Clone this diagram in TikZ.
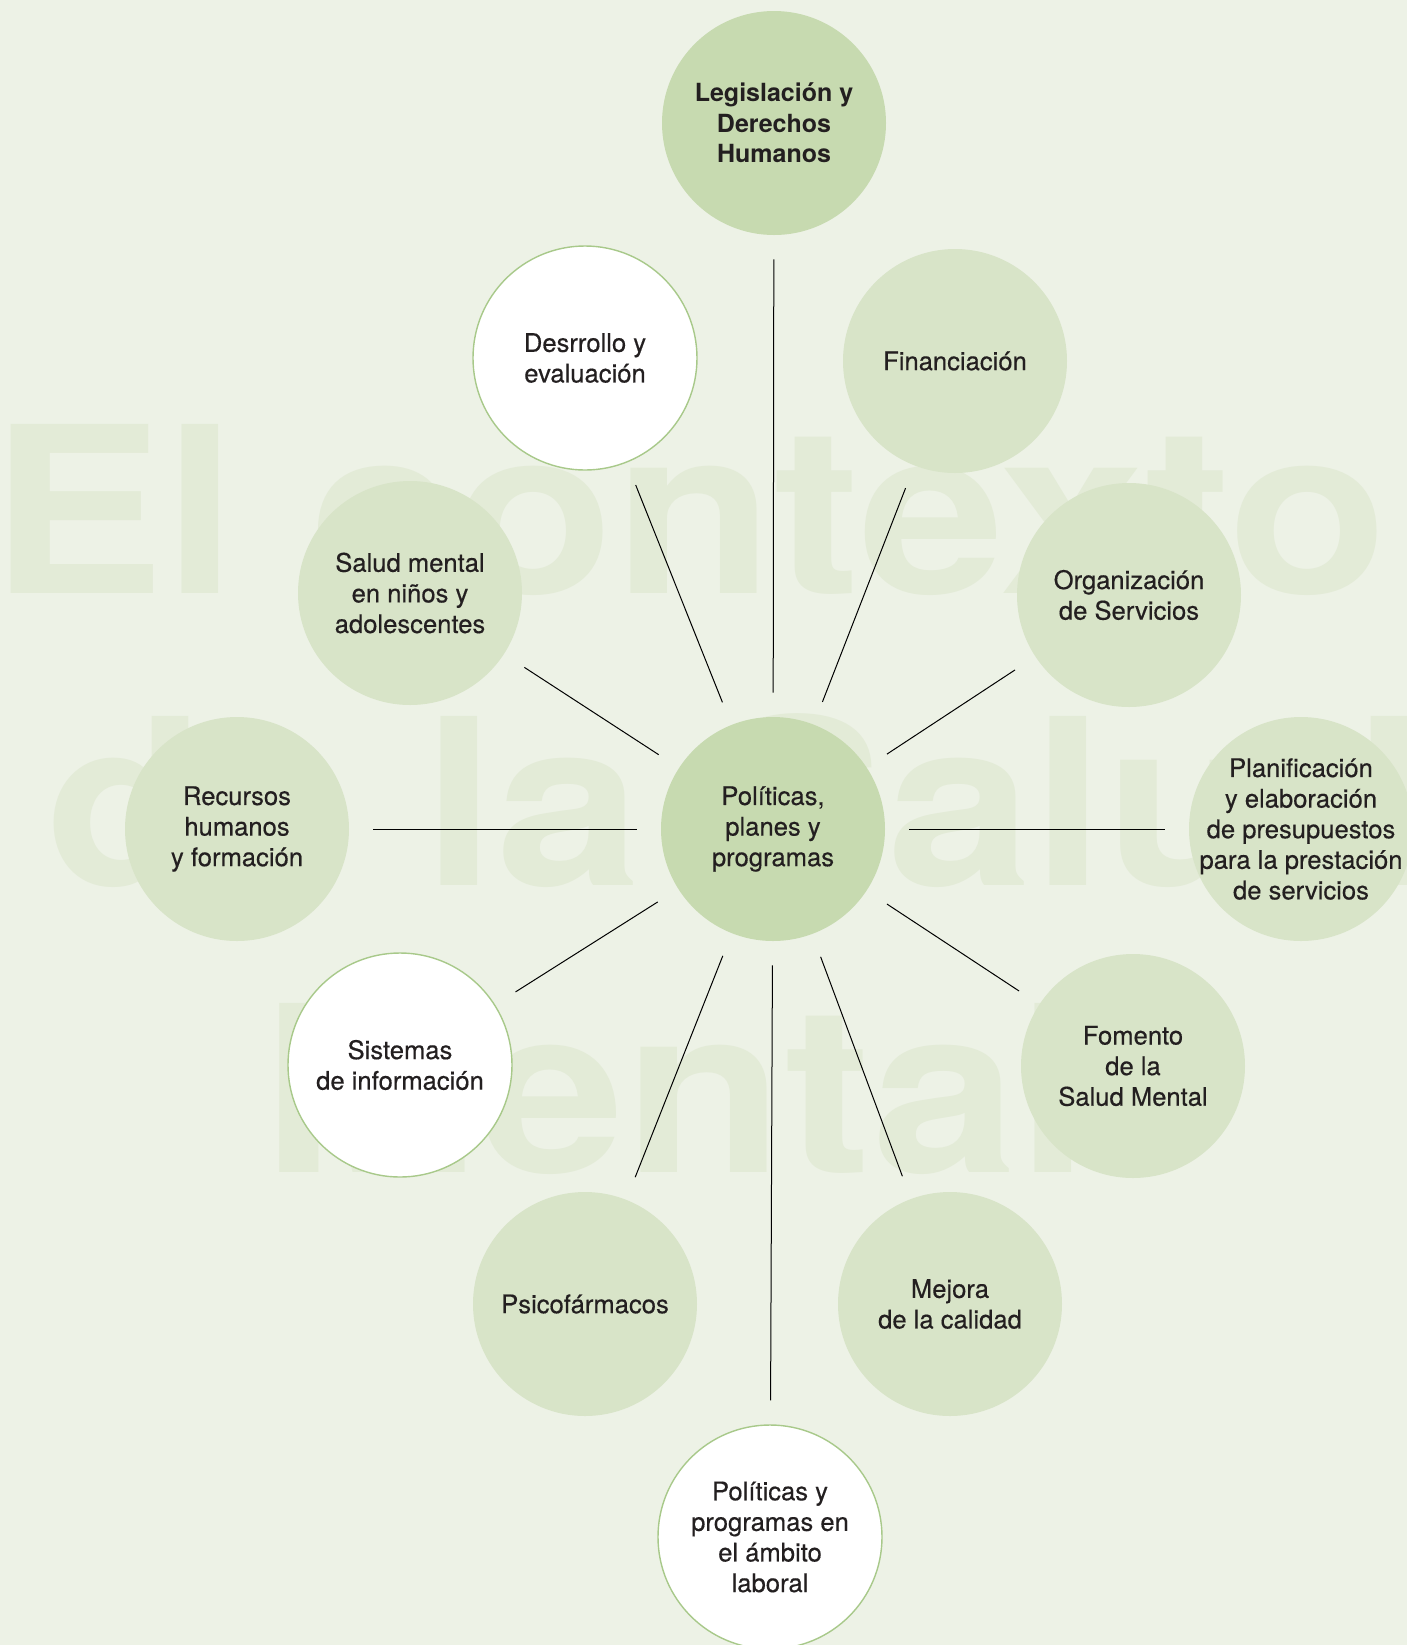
\documentclass[tikz,border=0pt]{standalone}
\usepackage{fontspec}
\setmainfont{TeX Gyre Heros}
\newfontfamily\midfont{TeX Gyre Heros}[FakeBold=0.4]

\definecolor{paper}{HTML}{EDF2E6}
\definecolor{darkleaf}{HTML}{C7DAB0}
\definecolor{lightleaf}{HTML}{D8E4C8}
\definecolor{rimgreen}{HTML}{A8C98A}
\definecolor{wordgreen}{HTML}{E3EBD7}
\definecolor{ink}{HTML}{231F20}

\begin{document}
\begin{tikzpicture}[x=0.5pt, y=-0.5pt,
  disc/.style={circle, minimum size=112pt, inner sep=0pt, fill=#1},
  whitedisc/.style={circle, minimum size=112pt, inner sep=0pt, fill=white, draw=rimgreen, line width=0.7pt},
  txt/.style={align=center, text=ink, font=\midfont\fontsize{12.8}{15.3}\selectfont},
  boldtxt/.style={align=center, text=ink, font=\bfseries\fontsize{12.5}{15.3}\selectfont},
  spoke/.style={line width=0.5pt, shorten <=12pt, shorten >=12pt},
  bigword/.style={anchor=base west, inner sep=0pt, text=wordgreen, font=\fontsize{116}{116}\bfseries\selectfont}]

  \useasboundingbox (0,0) rectangle (1407,1645);
  \clip (0,0) rectangle (1407,1645);
  \fill[paper] (0,0) rectangle (1407,1645);

  \node[bigword] (word1) at (-10,593) {\scalebox{1.125}[1]{El contexto}};
  \node[bigword] (word2) at (46,885) {\scalebox{1.125}[1]{de la Salud}};
  \node[bigword] (word3) at (262,1172) {\scalebox{1.125}[1]{Mental}};

  \node[disc=darkleaf, label={[boldtxt]center:{Legislación y\\Derechos\\Humanos}}] (legis) at (774,123) {};
  \node[whitedisc, label={[txt]center:{Desrrollo y\\evaluación}}] (desa) at (585,358) {};
  \node[disc=lightleaf, label={[txt]center:{Financiación}}] (finan) at (955,361) {};
  \node[disc=lightleaf, label={[txt]center:{Salud mental\\en niños y\\adolescentes}}] (ninos) at (410,593) {};
  \node[disc=lightleaf, label={[txt]center:{Organización\\de Servicios}}] (organ) at (1129,595) {};
  \node[disc=lightleaf, label={[txt]center:{Recursos\\humanos\\y formación}}] (recur) at (237,829) {};
  \node[disc=darkleaf, label={[txt]center:{Políticas,\\planes y\\programas}}] (hub) at (773,829) {};
  \node[disc=lightleaf, label={[txt]center:{Planificación\\y elaboración\\de presupuestos\\para la prestación\\de servicios}}] (plan) at (1301,829) {};
  \node[whitedisc, label={[txt]center:{Sistemas\\de información}}] (sist) at (400,1065) {};
  \node[disc=lightleaf, label={[txt]center:{Fomento\\de la\\Salud Mental}}] (fomen) at (1133,1066) {};
  \node[disc=lightleaf, label={[txt]center:{Psicofármacos}}] (psico) at (585,1304) {};
  \node[disc=lightleaf, label={[txt]center:{Mejora\\de la calidad}}] (mejora) at (950,1304) {};
  \node[whitedisc, label={[txt]center:{Políticas y\\programas en\\el ámbito\\laboral}}] (labor) at (770,1537) {};

  \draw[spoke] (hub) -- (legis);
  \draw[spoke] (hub) -- (desa);
  \draw[spoke] (hub) -- (finan);
  \draw[spoke] (hub) -- (ninos);
  \draw[spoke] (hub) -- (organ);
  \draw[spoke] (hub) -- (recur);
  \draw[spoke] (hub) -- (plan);
  \draw[spoke] (hub) -- (sist);
  \draw[spoke] (hub) -- (fomen);
  \draw[spoke] (hub) -- (psico);
  \draw[spoke] (hub) -- (mejora);
  \draw[spoke] (hub) -- (labor);
\end{tikzpicture}
\end{document}
